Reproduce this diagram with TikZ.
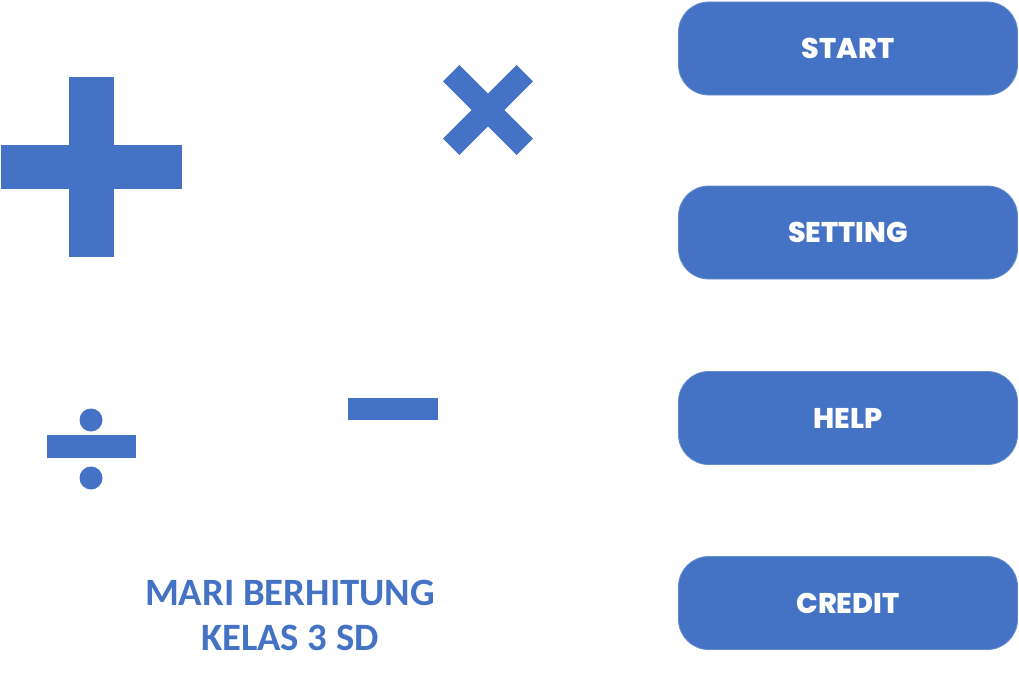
\documentclass[tikz,border=0pt]{standalone}
\usepackage{fontspec}
\setmainfont{Carlito}
\newfontfamily\btnfont{Poppins}[UprightFont=* ExtraBold]
\definecolor{sblue}{HTML}{4472C4}
\begin{document}
\begin{tikzpicture}[x=1pt,y=-1pt,
  btn/.style={fill=sblue,draw=sblue!80!white,line width=0.8pt,rounded corners=30pt,minimum width=339pt,minimum height=93pt,inner sep=0pt,text=white,font=\btnfont\fontsize{28.5}{30}\selectfont},
  sym/.style={fill=sblue,draw=none},
  title/.style={text=sblue,font=\bfseries\fontsize{38.7}{45}\selectfont,align=center,inner sep=0pt}]
\useasboundingbox (0,0) rectangle (1019,685);
% plus
\fill[sym] (69,77) rectangle (114,257);
\fill[sym] (1,145) rectangle (182,189);
% times
\fill[sym,rotate around={45:(488,110)}] (488-52,110-11.5) rectangle (488+52,110+11.5);
\fill[sym,rotate around={-45:(488,110)}] (488-52,110-11.5) rectangle (488+52,110+11.5);
% minus
\fill[sym] (348,398) rectangle (438,420);
% divide
\fill[sym] (47,435) rectangle (136,458);
\fill[sym] (91,420) circle[radius=11.5];
\fill[sym] (91,478) circle[radius=11.5];
% buttons
\node[btn] (start) at (848,48.5) {START};
\node[btn] (setting) at (848,232.5) {SETTING};
\node[btn] (help) at (848,418) {HELP};
\node[btn] (credit) at (848,603) {CREDIT};
% title
\node[title] (t1) at (290,593) {MARI BERHITUNG};
\node[title] (t2) at (290,638) {KELAS 3 SD};
\end{tikzpicture}
\end{document}
